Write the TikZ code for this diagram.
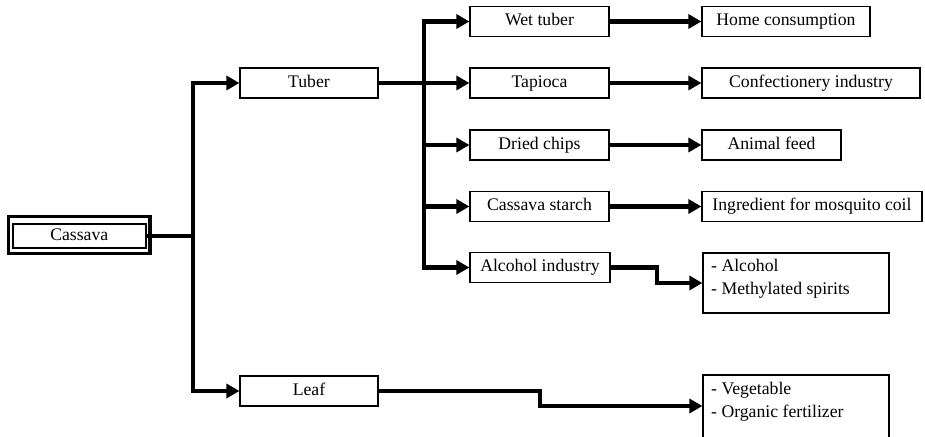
\documentclass[tikz,border=0pt]{standalone}
\usepackage{fontspec}
\setmainfont{Liberation Serif}
\usetikzlibrary{arrows.meta}
\begin{document}
\begin{tikzpicture}[x=1pt,y=1pt,
  txt/.style={font=\fontsize{17.7}{23}\selectfont},
  box/.style={draw, line width=1.2pt, minimum height=30pt, inner sep=0pt, text height=12.1pt, text depth=3.9pt, txt},
  midbox/.style={box, minimum width=139pt},
  conn/.style={line width=4.2pt, -{Triangle[length=13pt,width=14pt]}},
  plain/.style={line width=4.2pt}]
\useasboundingbox (0,0) rectangle (925,436);
% root
\node[box, line width=2pt, minimum width=132.5pt, minimum height=24pt] (cass) at (79.25,200) {Cassava};
\draw[line width=3.3pt] (8.5,182.5) rectangle (150,219.5);
% level 1
\node[box, minimum width=138pt] (tuber) at (309,353) {Tuber};
\node[box, minimum width=138pt] (leaf) at (309,45) {Leaf};
% level 2
\node[midbox] (wet) at (539.5,414.5) {Wet tuber};
\node[midbox] (tap) at (539.5,353) {Tapioca};
\node[midbox] (dried) at (539.5,291) {Dried chips};
\node[midbox] (starch) at (539.5,229.5) {Cassava starch};
\node[box, minimum width=140pt] (alc) at (540,168.5) {Alcohol industry};
% level 3
\node[box, minimum width=168pt] (home) at (786,414.5) {Home consumption};
\node[box, minimum width=218pt] (conf) at (811,353) {Confectionery industry};
\node[box, minimum width=139pt] (feed) at (771.5,291) {Animal feed};
\node[box, minimum width=220pt] (ingr) at (812,229.5) {Ingredient for mosquito coil};
\node[draw, line width=1.2pt, minimum width=186pt, minimum height=60pt] (alcbox) at (796,153) {};
\node[txt, anchor=north west, align=left, inner sep=0pt] (alctxt) at (711,177) {- Alcohol\\- Methylated spirits};
\node[draw, line width=1.2pt, minimum width=186pt, minimum height=66pt] (vegbox) at (796,28) {};
\node[txt, anchor=north west, align=left, inner sep=0pt] (vegtxt) at (711,54) {- Vegetable\\- Organic fertilizer};
% connectors
\coordinate (j1) at (193,200);
\draw[plain] (cass.east) -- (j1);
\draw[conn] (j1) |- (tuber.west);
\draw[conn] (j1) |- (leaf.west);
\coordinate (j2) at (424,353);
\draw[plain] (tuber.east) -- (j2);
\draw[conn] (j2) |- (wet.west);
\draw[conn] (j2) -- (tap.west);
\draw[conn] (j2) |- (dried.west);
\draw[conn] (j2) |- (starch.west);
\draw[conn] (j2) |- (alc.west);
\draw[conn] (wet.east) -- (home.west);
\draw[conn] (tap.east) -- (conf.west);
\draw[conn] (dried.east) -- (feed.west);
\draw[conn] (starch.east) -- (ingr.west);
\coordinate (k1) at (657,0);
\draw[conn] (alc.east) -- (alc.east -| k1) |- (alcbox.west);
\coordinate (k2) at (540,0);
\draw[conn] (leaf.east) -- (leaf.east -| k2) |- ([yshift=2pt]vegbox.west);
\end{tikzpicture}
\end{document}
